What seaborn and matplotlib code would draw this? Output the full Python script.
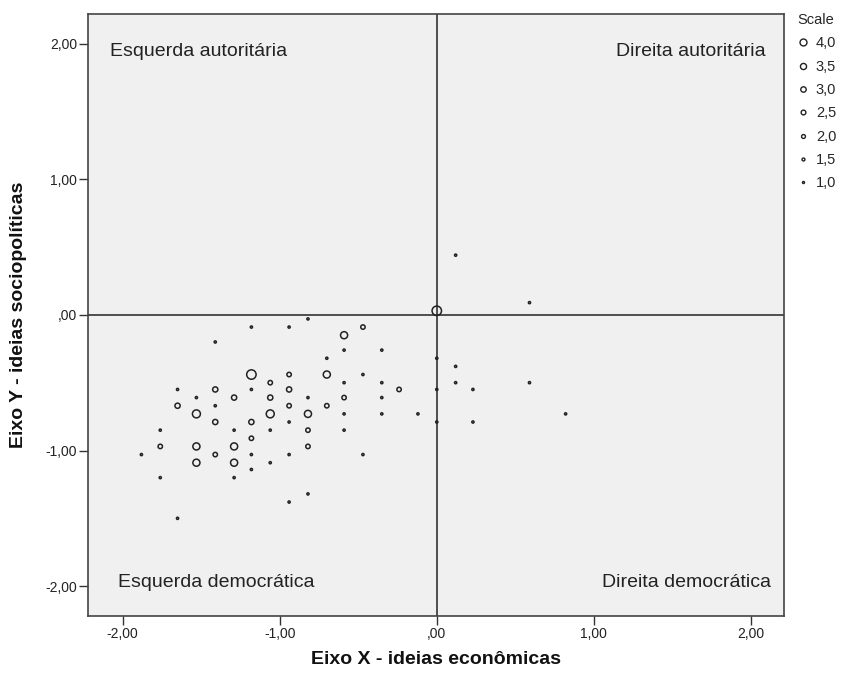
import pandas as pd
import matplotlib
matplotlib.use("Agg")
import matplotlib.pyplot as plt
from matplotlib.lines import Line2D
import seaborn as sns

# Werte (x = econ, y = socio, Punktgröße = scale)
econ = [-1.88, -1.76, -1.76, -1.76, -1.65, -1.65, -1.65, -1.53, -1.53, -1.53,
        -1.53, -1.41, -1.41, -1.41, -1.41, -1.41, -1.29, -1.29, -1.29, -1.29,
        -1.29, -1.18, -1.18, -1.18, -1.18, -1.18, -1.18, -1.18, -1.06, -1.06,
        -1.06, -1.06, -1.06, -0.94, -0.94, -0.94, -0.94, -0.94, -0.94, -0.94,
        -0.82, -0.82, -0.82, -0.82, -0.82, -0.82, -0.70, -0.70, -0.70, -0.59,
        -0.59, -0.59, -0.59, -0.59, -0.59, -0.47, -0.47, -0.47, -0.35, -0.35,
        -0.35, -0.35, -0.24, -0.12, 0.00, 0.00, 0.00, 0.00, 0.12, 0.12,
        0.12, 0.23, 0.23, 0.59, 0.59, 0.82]
socio = [-1.03, -0.85, -0.97, -1.20, -0.55, -0.67, -1.50, -0.61, -0.73, -0.97,
         -1.09, -0.20, -0.55, -0.67, -0.79, -1.03, -0.61, -0.85, -0.97, -1.09,
         -1.20, -0.09, -0.44, -0.55, -0.79, -0.91, -1.03, -1.14, -0.50, -0.61,
         -0.73, -0.85, -1.09, -0.09, -0.44, -0.55, -0.67, -0.79, -1.03, -1.38,
         -0.03, -0.61, -0.73, -0.85, -0.97, -1.32, -0.32, -0.44, -0.67, -0.15,
         -0.26, -0.50, -0.61, -0.73, -0.85, -0.09, -0.44, -1.03, -0.26, -0.50,
         -0.61, -0.73, -0.55, -0.73, 0.03, -0.32, -0.55, -0.79, 0.44, -0.38,
         -0.50, -0.55, -0.79, 0.09, -0.50, -0.73]
scale = [1.0, 1.0, 2.0, 1.0, 1.0, 2.5, 1.0, 1.0, 3.5, 3.0,
         3.0, 1.0, 2.5, 1.0, 2.5, 2.0, 2.5, 1.0, 3.0, 3.0,
         1.0, 1.0, 4.0, 1.0, 2.5, 2.0, 1.0, 1.0, 2.0, 2.5,
         3.5, 1.0, 1.0, 1.0, 2.0, 2.5, 2.0, 1.0, 1.0, 1.0,
         1.0, 1.0, 3.0, 2.0, 2.0, 1.0, 1.0, 3.0, 2.0, 3.0,
         1.0, 1.0, 2.0, 1.0, 1.0, 2.0, 1.0, 1.0, 1.0, 1.0,
         1.0, 1.0, 2.0, 1.0, 4.0, 1.0, 1.0, 1.0, 1.0, 1.0,
         1.0, 1.0, 1.0, 1.0, 1.0, 1.0]

scale_levels = [4.0, 3.5, 3.0, 2.5, 2.0, 1.5, 1.0]
ticks = [-2, -1, 0, 1, 2]

quadrantes = ["Esquerda autoritária", "Direita autoritária",
              "Esquerda democrática", "Direita democrática"]

df = pd.DataFrame({"econ": econ, "socio": socio, "scale": scale})

sns.set_theme(style="ticks")
plt.rcParams["font.family"] = ["Liberation Sans", "DejaVu Sans"]

cinza = "#222222"
size_map = {1.0: 2.5, 1.5: 5, 2.0: 10, 2.5: 14, 3.0: 26, 3.5: 33, 4.0: 46}

fig = plt.figure(figsize=(8.41, 6.76), dpi=100)
ax = fig.add_axes([88 / 841, 1 - 616 / 676, 696 / 841, 602.3 / 676])
ax.set_facecolor("#f0f0f0")

sns.scatterplot(data=df, x="econ", y="socio", size="scale", sizes=size_map,
                marker="o", facecolor="none", edgecolor=cinza, linewidth=1.1,
                legend=False, ax=ax, zorder=3)
ax.collections[0].set_facecolor("none")

ax.axhline(0, color="#333333", lw=1.2, zorder=2)
ax.axvline(0, color="#333333", lw=1.2, zorder=2)

ax.set_xlim(-2.22, 2.21)
ax.set_ylim(-2.22, 2.22)


def spss_fmt(v):
    s = f"{v:.2f}".replace(".", ",")
    return s.replace("0,", ",", 1) if abs(v) < 1 else s


ax.set_xticks(ticks)
ax.set_yticks(ticks)
ax.set_xticklabels([spss_fmt(t) for t in ticks])
ax.set_yticklabels([spss_fmt(t) for t in ticks])
ax.tick_params(direction="out", length=6.5, width=1, color="#333333",
               labelsize=10, labelcolor="#222222", pad=1.5)

for sp in ax.spines.values():
    sp.set_color("#444444")
    sp.set_linewidth(1.2)

ax.set_xlabel("Eixo X - ideias econômicas", fontsize=14, fontweight="bold", color="#111111")
ax.set_ylabel("Eixo Y - ideias sociopolíticas", fontsize=14, fontweight="bold", color="#111111")
ax.xaxis.set_label_coords(0.5, -0.058)
ax.yaxis.set_label_coords(-0.087, 0.5)

txt = dict(fontsize=14, color="#222222", va="center")
ax.text(-2.08, 1.94, quadrantes[0], ha="left", **txt)
ax.text(2.09, 1.94, quadrantes[1], ha="right", **txt)
ax.text(-2.03, -1.975, quadrantes[2], ha="left", **txt)
ax.text(2.13, -1.975, quadrantes[3], ha="right", **txt)

# Legende wie in SPSS
leg_ms = [5.0, 4.4, 3.9, 3.4, 2.8, 2.1, 1.5]
handles = [Line2D([], [], marker="o", ls="", mfc="none", mec=cinza, mew=1.0, ms=m)
           for m in leg_ms]
labels = [f"{v:.1f}".replace(".", ",") for v in scale_levels]
fig.legend(handles, labels, title="Scale", loc="upper left",
           bbox_to_anchor=(797 / 841, 1 - 13 / 676), frameon=False,
           fontsize=10.5, title_fontsize=10.5, alignment="left",
           handlelength=0.8, handletextpad=0.5, labelspacing=0.64,
           borderpad=0, borderaxespad=0)

fig.savefig("out.png", dpi=100)
